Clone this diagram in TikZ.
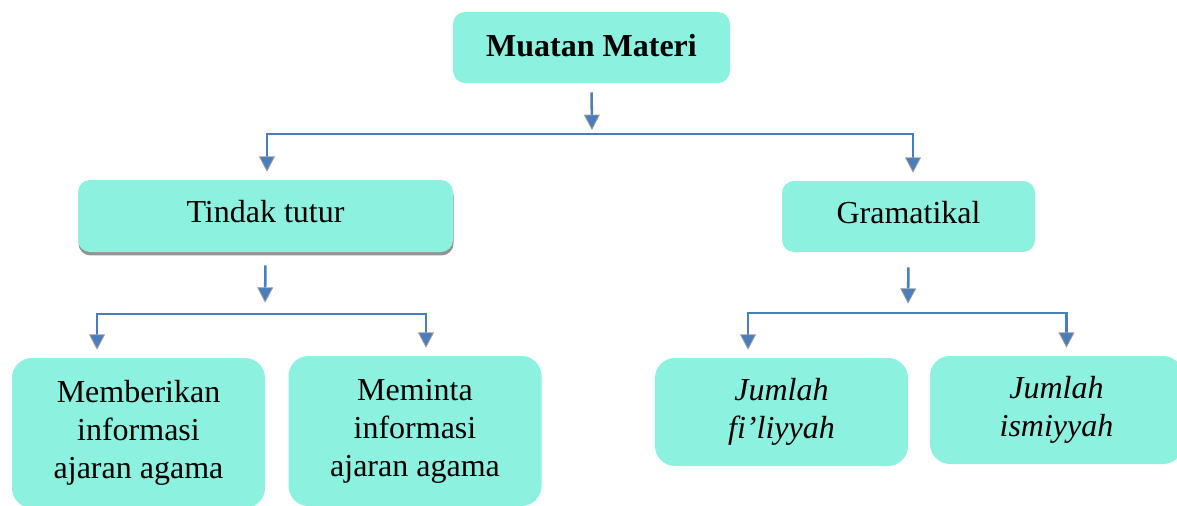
\documentclass[tikz,border=0pt]{standalone}
\usepackage{fontspec}
\setmainfont{Liberation Serif}
\usetikzlibrary{positioning, arrows.meta, shadows}
\definecolor{boxfill}{RGB}{140,241,222}
\definecolor{arrowblue}{RGB}{74,126,187}
\tikzset{
%Blue connector styles:
Link/.style = {draw=arrowblue, line width=1.9pt},
Arrow/.style = {Link, -{Triangle[width=12pt, length=11.5pt, fill=arrowblue, color=gray!75, line width=0.6pt]}},
}

\begin{document}
\begin{tikzpicture}[x=0.75pt, y=-0.75pt,
			topic/.style = {rectangle, fill=boxfill, rounded corners=9pt, align=center, inner sep=2pt, font=\fontsize{24}{28.5}\selectfont},
			head/.style = {topic, font=\fontsize{24}{28.5}\selectfont\bfseries},
			leaf/.style = {topic, rounded corners=15pt, minimum width=189.75pt},
			shadowed/.style = {drop shadow={shadow xshift=0.4pt, shadow yshift=-2.6pt, fill=gray!85, opacity=1}},
		]
		\path[use as bounding box, clip] (0,0) rectangle (1177,506);

		\node[head, text depth=3.5pt, minimum width=207.75pt, minimum height=53.25pt](materi) at (591.5,47.5){Muatan Materi};
		\node[topic, shadowed, text depth=6.5pt, minimum width=281.25pt, minimum height=54pt](tindak) at (265.5,216){Tindak tutur};
		\node[topic, text depth=6.5pt, minimum width=189.75pt, minimum height=53.25pt](gram) at (908.5,216.5){Gramatikal};

		\node[leaf, minimum height=112.5pt](memberi) at (138.5,433){Memberikan\\informasi\\ajaran agama};
		\node[leaf, minimum height=112.5pt](meminta) at (415,431){Meminta\\informasi\\ajaran agama};
		\node[leaf, minimum height=81pt, font=\fontsize{24}{28.5}\selectfont\itshape](filiyyah) at (781.5,412){Jumlah\\fi’liyyah};
		\node[leaf, minimum height=81pt, font=\fontsize{24}{28.5}\selectfont\itshape](ismiyyah) at (1056.5,410){Jumlah\\ismiyyah};

		% split points
		\coordinate(s1) at (592,134);
		\coordinate(s2) at (265,314);
		\coordinate(s3) at (908,313);
		\coordinate(t1) at ([xshift=1.1pt]tindak.north);
		\coordinate(t2) at ([xshift=3.4pt]gram.north);
		\coordinate(m1) at ([xshift=-31.1pt]memberi.north);
		\coordinate(m2) at ([xshift=8.25pt]meminta.north);
		\coordinate(j1) at ([xshift=-25.1pt]filiyyah.north);
		\coordinate(j2) at ([xshift=7.5pt]ismiyyah.north);

		\draw[Arrow, shorten <=6.75pt, shorten >=3pt](materi.south)--(s1);
		\draw[Arrow, shorten >=6pt](s1)-|(t1);
		\draw[Arrow, shorten >=6pt](s1)-|(t2);

		\draw[Arrow, shorten <=9.75pt, shorten >=8.5pt](tindak.south)--(s2);
		\draw[Arrow, shorten >=6pt](s2)-|(m1);
		\draw[Arrow, shorten >=6pt](s2)-|(m2);

		\draw[Arrow, shorten <=11.25pt, shorten >=7pt](gram.south)--(s3);
		\draw[Arrow, shorten >=6pt](s3)-|(j1);
		\draw[Arrow, shorten >=6pt](s3)-|(j2);

	\end{tikzpicture}
\end{document}
